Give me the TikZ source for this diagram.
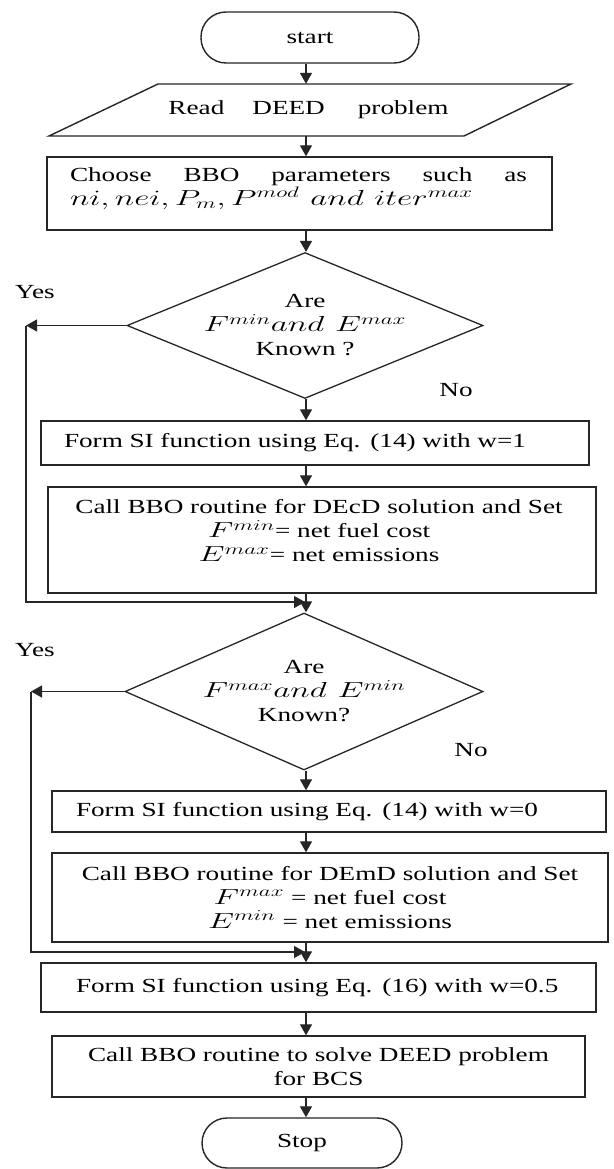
\documentclass[tikz,border=0pt]{standalone}
\usepackage{fontspec}
\setmainfont{Liberation Serif}[FakeStretch=1.36]
\usetikzlibrary{arrows.meta,shapes.geometric,calc}
\newcommand{\wm}[1]{\scalebox{1.6}[1.05]{$#1$}}
\tikzset{
  ln/.style={line width=1.3pt, draw=black!85},
  arr/.style={ln, -{Triangle[length=11pt,width=12pt]}},
  box/.style={draw=black!85, line width=1.4pt, rectangle, inner sep=0pt, font=\fontsize{20}{24}\selectfont},
  term/.style={box, rounded corners=25pt, align=center},
  dec/.style={draw=black!85, line width=1.3pt, diamond, inner sep=0pt, shape aspect=2.4, align=center, font=\fontsize{20}{24}\selectfont},
  txt/.style={inner sep=0pt, font=\fontsize{20}{24}\selectfont, align=center},
}
\begin{document}
\begin{tikzpicture}[x=1pt,y=-1pt]
\useasboundingbox[fill=white] (0,0) rectangle (613,1169);
\coordinate (c) at (306,0);
% nodes
\node[term, minimum width=218pt, minimum height=51pt] (start) at (310,37.5) {start};
\draw[ln, line width=1.4pt] (158,84) -- (571,84) -- (464,136) -- (49,136) -- cycle;
\node[txt, minimum height=52pt] (read) at (308.5,110) {Read\hspace{28pt}DEED\hspace{33pt}problem};
\node[box, minimum width=505pt, minimum height=73pt] (choose) at (299.5,193.5) {};
\node[txt, text width=457pt, align=left] (chooset) at (298.5,188.5) {Choose\hfill BBO\hfill parameters\hfill such\hfill as\\ \wm{ni, nei, P_m, P^{mod}\ and\ iter^{max}}};
\node[dec, minimum width=356pt, minimum height=145pt] (d1) at (305,325.5) {Are\\ \wm{F^{min}and\ E^{max}}\\ Known ?};
\node[box, minimum width=548pt, minimum height=44pt, text width=502pt, inner xsep=23pt, align=left] (form1) at (315,443) {Form SI function using Eq. (14) with w=1};
\node[box, minimum width=548pt, minimum height=106pt] (call1) at (322,540) {};
\node[txt] (call1t) at (319,531) {Call BBO routine for DEcD solution and Set\\ \wm{F^{min}}= net fuel cost\\ \wm{E^{max}}= net emissions};
\node[dec, minimum width=358pt, minimum height=157pt] (d2) at (304,691.5) {Are\\ \wm{F^{max}and\ E^{min}}\\ Known?};
\node[box, minimum width=554pt, minimum height=41pt, text width=506pt, inner xsep=24pt, align=left] (form2) at (329,811.5) {Form SI function using Eq. (14) with w=0};
\node[box, minimum width=556pt, minimum height=89pt, align=center] (call2) at (330,897.5) {Call BBO routine for DEmD solution and Set\\ \wm{F^{max}} = net fuel cost\\ \wm{E^{min}} = net emissions};
\node[box, minimum width=555pt, minimum height=49pt, text width=485pt, inner xsep=35pt, align=left] (form3) at (318.5,987.5) {Form SI function using Eq. (16) with w=0.5};
\node[box, minimum width=533pt, minimum height=61pt, align=center] (call3) at (318.5,1066.5) {Call BBO routine to solve DEED problem\\ for BCS};
\node[term, minimum width=200pt, minimum height=50pt] (stop) at (302,1143) {Stop};
% labels
\node[txt] (yes1) at (35,292) {Yes};
\node[txt] (no1) at (456,390) {No};
\node[txt] (yes2) at (35,650) {Yes};
\node[txt] (no2) at (471,750) {No};
% connectors
\draw[arr] (c |- start.south) -- (c |- read.north);
\draw[arr] (c |- read.south) -- (c |- choose.north);
\draw[arr] (c |- choose.south) -- (c |- d1.north);
\draw[arr] (c |- d1.south) -- (c |- form1.north);
\draw[arr] (c |- form1.south) -- (c |- call1.north);
\draw[arr] (c |- call1.south) -- (c |- d2.north);
\draw[arr] (c |- d2.south) -- (c |- form2.north);
\draw[arr] (c |- form2.south) -- (c |- call2.north);
\draw[arr] (c |- call2.south) -- (c |- form3.north);
\draw[arr] (c |- form3.south) -- (c |- call3.north);
\draw[arr] (c |- call3.south) -- (c |- stop.north);
\coordinate (y1) at (26,325.5);
\coordinate (m1) at (305,602);
\draw[arr] (d1.west) -- (y1);
\draw[arr] (y1) |- (m1);
\coordinate (y2) at (31,691.5);
\coordinate (m2) at (305,952);
\draw[arr] (d2.west) -- (y2);
\draw[arr] (y2) |- (m2);
\end{tikzpicture}
\end{document}
